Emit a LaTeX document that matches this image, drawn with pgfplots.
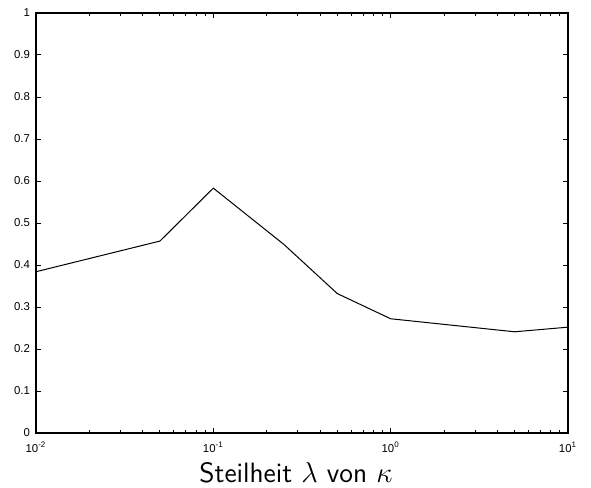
\documentclass[border=0pt]{standalone}
\usepackage{fontspec}
\setmainfont{Liberation Sans}
\usepackage{pgfplots}
\pgfplotsset{compat=1.18}
\begin{document}
\begin{tikzpicture}
\begin{axis}[
  scale only axis,
  width=266pt, height=210pt,
  xmode=log,
  xmin=0.01, xmax=10, ymin=0, ymax=1,
  ytick={0,0.1,...,1},
  xtick={0.01,0.1,1,10},
  xticklabels={10\textsuperscript{-2},10\textsuperscript{-1},10\textsuperscript{0},10\textsuperscript{1}},
  tick align=inside,
  major tick length=2.6pt,
  minor tick length=1.5pt,
  tick style={black, line width=0.5pt},
  axis line style={line width=0.6pt},
  /pgf/number format/assume math mode=true,
  ticklabel style={font=\fontsize{5.7}{6.5}\selectfont},
  yticklabel style={/pgf/number format/fixed, /pgf/number format/precision=1, xshift=0.5pt},
  xticklabel style={yshift=-1pt},
  xlabel={\sffamily\fontsize{14}{16}\selectfont Steilheit $\lambda$ von $\kappa$},
  xlabel style={yshift=2pt, xshift=-3pt},
]
\addplot[black, line width=0.5pt] coordinates {
  (0.01,0.384) (0.05,0.457) (0.1,0.583) (0.25,0.449)
  (0.5,0.332) (1,0.272) (5,0.241) (10,0.252)
};
\coordinate (bl) at (rel axis cs:0,0);
\coordinate (tr) at (rel axis cs:1,1);
\end{axis}
\pgfresetboundingbox
\path ([shift={(-18pt,-27pt)}]bl) rectangle ([shift={(11.5pt,6.5pt)}]tr);
\end{tikzpicture}
\end{document}
